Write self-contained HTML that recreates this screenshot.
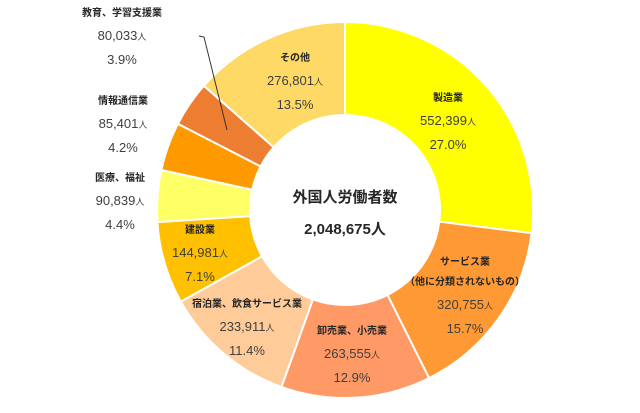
<!DOCTYPE html>
<html><head><meta charset="utf-8"><style>
body{margin:0;background:#fff;}
svg text{font-family:"Liberation Sans","Noto Sans CJK JP",sans-serif;}
.n{font-size:10px;font-weight:bold;fill:#262626;}
.v{font-size:13px;fill:#404040;}
.u{font-size:9px;fill:#404040;}
</style></head><body>
<svg id="chart" width="640" height="408" viewBox="0 0 640 408">
<g id="slices"></g>
<path d="M199,36 L204,37 L227,130" stroke="#333" stroke-width="1" fill="none"/>
<g id="labels"></g>
<text x="345" y="202" text-anchor="middle" style="font-size:15px;font-weight:bold;fill:#262626">外国人労働者数</text>
<text x="345" y="234" text-anchor="middle" style="font-size:15px;font-weight:bold;fill:#262626">2,048,675人</text>
</svg>
<script>
const categories=["製造業","サービス業","卸売業、小売業","宿泊業、飲食サービス業","建設業","医療、福祉","情報通信業","教育、学習支援業","その他"];
const counts=[552399,320755,263555,233911,144981,90839,85401,80033,276801];
const countLabels=["552,399","320,755","263,555","233,911","144,981","90,839","85,401","80,033","276,801"];
const percentLabels=["27.0%","15.7%","12.9%","11.4%","7.1%","4.4%","4.2%","3.9%","13.5%"];
const colors=["#FFFF00","#FF9933","#FF9966","#FFCC99","#FFC000","#FFFF66","#FF9900","#ED7D31","#FFD966"];
const labelPos=[[448,97],[465,261],[352,330],[247,303],[200,229],[120,177],[123,100],[122,12],[295,57]];
const cx=345,cy=210,R=188,r=95;
const NS="http://www.w3.org/2000/svg";
const total=counts.reduce((a,b)=>a+b,0);
const gs=document.getElementById('slices'),gl=document.getElementById('labels');
let a0=0;
function pt(a,rad){return [cx+rad*Math.sin(a),cy-rad*Math.cos(a)];}
counts.forEach((c,i)=>{
 const a1=a0+c/total*2*Math.PI;
 const [x0,y0]=pt(a0,R),[x1,y1]=pt(a1,R),[x2,y2]=pt(a1,r),[x3,y3]=pt(a0,r);
 const lg=(a1-a0)>Math.PI?1:0;
 const p=document.createElementNS(NS,'path');
 p.setAttribute('d',`M${x0},${y0}A${R},${R} 0 ${lg} 1 ${x1},${y1}L${x2},${y2}A${r},${r} 0 ${lg} 0 ${x3},${y3}Z`);
 p.setAttribute('fill',colors[i]);p.setAttribute('stroke','#fff');p.setAttribute('stroke-width','2');
 
 
 gs.appendChild(p);
 a0=a1;
 const [lx,ly]=labelPos[i];
 const g=document.createElementNS(NS,'g');
 
 
 let y=ly+4;
 let html=`<text class="n" x="${lx}" y="${y}" text-anchor="middle">${categories[i]}</text>`;
 if(i===1){y+=20;html+=`<text class="n" x="${lx}" y="${y}" text-anchor="middle">（他に分類されないもの）</text>`;}
 y+=24;html+=`<text class="v" x="${lx}" y="${y}" text-anchor="middle">${countLabels[i]}<tspan class="u">人</tspan></text>`;
 y+=24;html+=`<text class="v" x="${lx}" y="${y}" text-anchor="middle">${percentLabels[i]}</text>`;
 g.innerHTML=html;gl.appendChild(g);
});
</script>
</body></html>
